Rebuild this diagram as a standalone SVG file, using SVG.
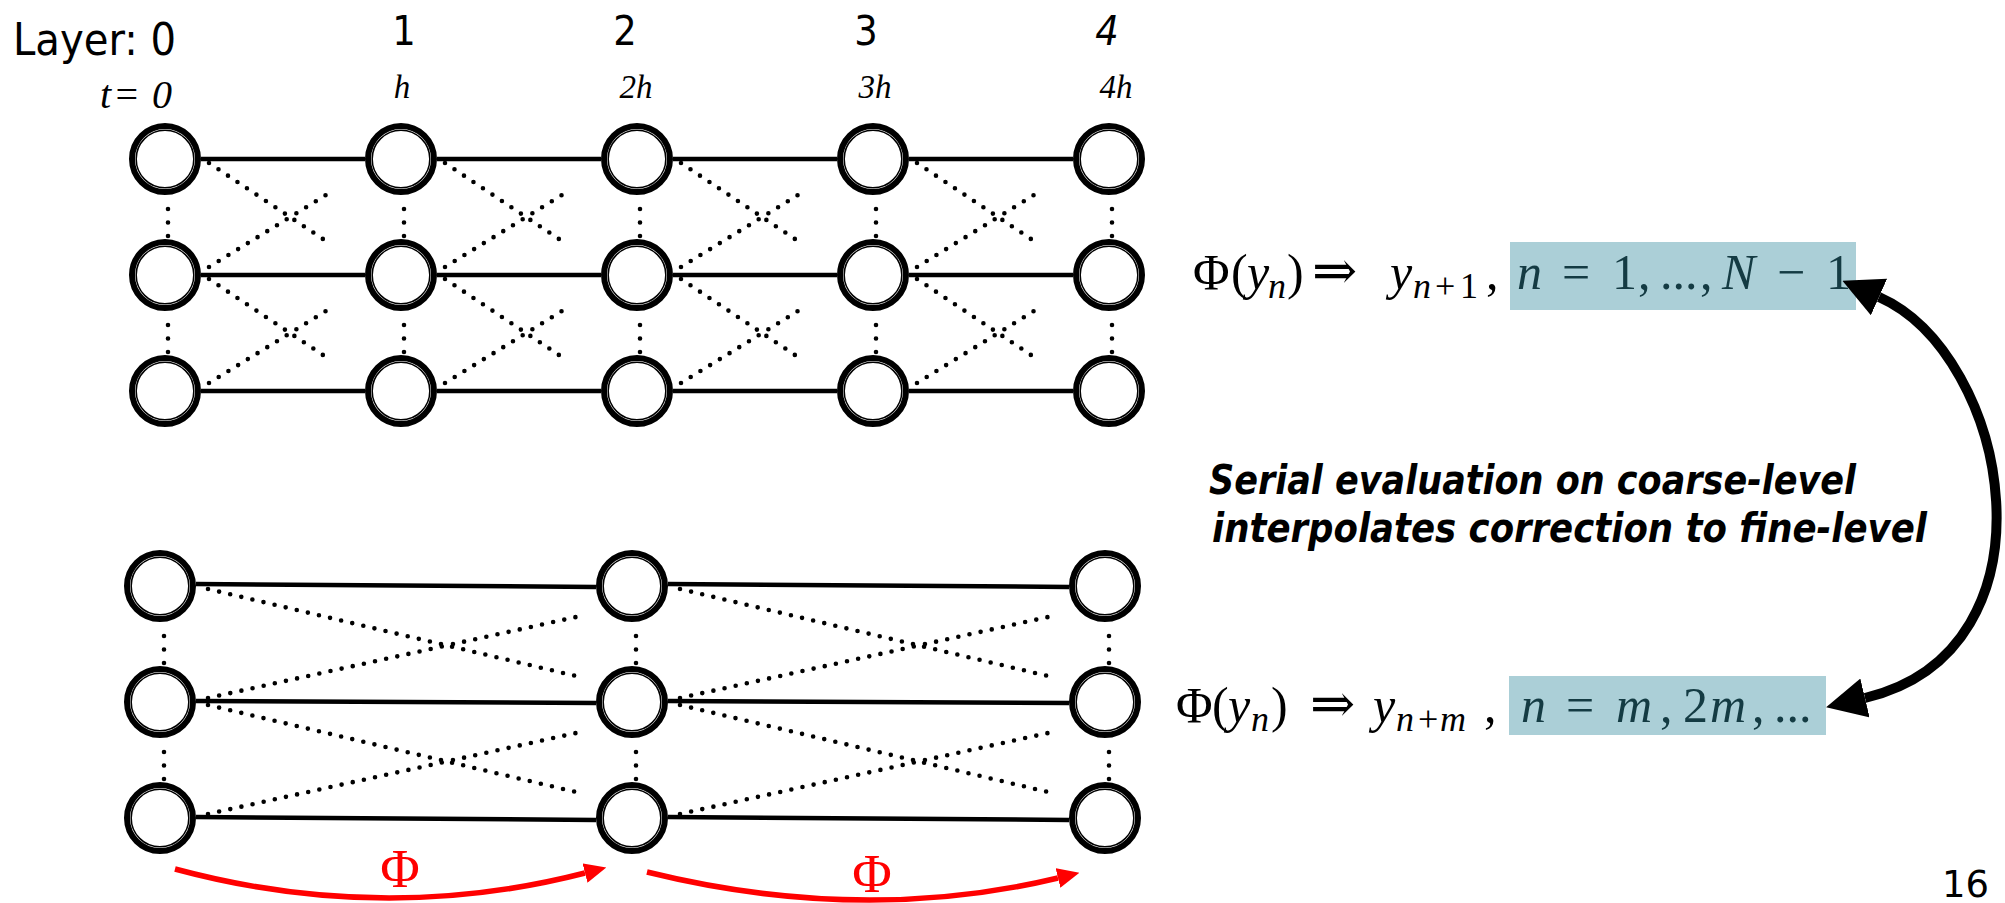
<svg xmlns="http://www.w3.org/2000/svg" xmlns:xlink="http://www.w3.org/1999/xlink" width="2005" height="903" viewBox="0 0 2005 903">
<style>
.ring{fill:#fff;stroke:#000;stroke-width:6}
.inner{fill:none;stroke:#000;stroke-width:1.5}
.solid{stroke:#000;stroke-width:4.5;fill:none}
.dot{stroke:#000;stroke-width:4.6;stroke-dasharray:0 11.4;stroke-linecap:round;fill:none}
.vdot{stroke:#000;stroke-width:4.6;stroke-dasharray:0 13.5;stroke-linecap:round;fill:none}
.sans{font-family:"DejaVu Sans","Liberation Sans",sans-serif;font-stretch:condensed}
.serif{font-family:"Liberation Serif","DejaVu Serif",serif}
.it{font-style:italic}
.box{fill:#abcfd7}
.boxtxt{fill:#143b43}
.red{stroke:#ff0000;stroke-width:5.5;fill:none}
.blk{stroke:#000;stroke-width:10;fill:none}
.arw{font-family:"DejaVu Serif",serif;font-size:54px}
.sub{font-size:36px}
.note{font-weight:bold;font-style:oblique;font-size:41px}
</style>
<defs>
<g id="nodeShape"><circle r="33" class="ring"/><circle r="28.8" class="inner"/></g>
<marker id="bigHead" viewBox="0 0 40 40" markerUnits="userSpaceOnUse" markerWidth="40" markerHeight="40" refX="0" refY="20" orient="auto-start-reverse"><path d="M0,0 L40,20 L0,40 z" fill="#000"/></marker>
<marker id="redHead" viewBox="0 0 22 20" markerUnits="userSpaceOnUse" markerWidth="22" markerHeight="20" refX="0" refY="10" orient="auto"><path d="M0,0 L22,10 L0,20 z" fill="#ff0000"/></marker>
</defs>
<rect width="2005" height="903" fill="#fff"/>

<g id="labels">
<text class="sans" x="13" y="55" font-size="44" textLength="163" lengthAdjust="spacingAndGlyphs">Layer: 0</text>
<text class="sans" x="404" y="45" font-size="41" text-anchor="middle">1</text>
<text class="sans" x="625" y="45" font-size="41" text-anchor="middle">2</text>
<text class="sans" x="866" y="45" font-size="41" text-anchor="middle">3</text>
<text class="sans it" x="1107" y="45" font-size="41" text-anchor="middle">4</text>
<text class="serif it" x="100" y="108" font-size="40"><tspan>t</tspan><tspan x="113">=</tspan><tspan x="152">0</tspan></text>
<text class="serif it" x="402" y="98" font-size="33" text-anchor="middle">h</text>
<text class="serif it" x="636" y="98" font-size="33" text-anchor="middle">2h</text>
<text class="serif it" x="875" y="98" font-size="33" text-anchor="middle">3h</text>
<text class="serif it" x="1116" y="98" font-size="33" text-anchor="middle">4h</text>
<text class="sans" x="1942" y="897" font-size="38" textLength="47" lengthAdjust="spacingAndGlyphs">16</text>
</g>

<g id="connectors">
<path class="solid" d="M201 159H365M437 159H601M673 159H837M909 159H1073"/>
<path class="solid" d="M201 275H365M437 275H601M673 275H837M909 275H1073"/>
<path class="solid" d="M201 391H365M437 391H601M673 391H837M909 391H1073"/>
<path class="vdot" d="M168 209V237M404 209V237M640 209V237M876 209V237M1112 209V237"/>
<path class="vdot" d="M168 325V353M404 325V353M640 325V353M876 325V353M1112 325V353"/>
<path class="dot" d="M209 163L323 239M209 267L326 195M209 279L323 355M209 383L326 311"/>
<path class="dot" d="M445 163L559 239M445 267L562 195M445 279L559 355M445 383L562 311"/>
<path class="dot" d="M681 163L795 239M681 267L798 195M681 279L795 355M681 383L798 311"/>
<path class="dot" d="M917 163L1031 239M917 267L1034 195M917 279L1031 355M917 383L1034 311"/>
<path class="solid" d="M196 584L596 587M668 584L1069 587"/>
<path class="solid" d="M196 701L596 703M668 701L1069 703"/>
<path class="solid" d="M196 817L596 820M668 817L1069 820"/>
<path class="vdot" d="M164 636V664M636 636V664M1109 636V664"/>
<path class="vdot" d="M164 752V780M636 752V780M1109 752V780"/>
<path class="dot" d="M208 589L576 676M208 698L576 617M208 705L576 792M208 814L576 733"/>
<path class="dot" d="M680 589L1048 676M680 698L1048 617M680 705L1048 792M680 814L1048 733"/>
<path class="red" d="M175 869Q383 925 585 873" marker-end="url(#redHead)"/>
<path class="red" d="M647 872Q862 925 1058 878" marker-end="url(#redHead)"/>
</g>

<g id="formulas">
<rect class="box" x="1510" y="242" width="346" height="68"/>
<rect class="box" x="1509" y="676" width="317" height="59"/>
<text class="serif" font-size="50" y="289"><tspan x="1193">Φ</tspan><tspan x="1231">(</tspan><tspan x="1247" class="it">y</tspan><tspan x="1268" y="298" class="sub it">n</tspan><tspan x="1287" y="289">)</tspan><tspan x="1312" class="arw">⇒</tspan><tspan x="1390" class="it">y</tspan><tspan x="1413" y="298" class="sub it">n</tspan><tspan x="1435" y="298" class="sub">+</tspan><tspan x="1460" y="298" class="sub">1</tspan><tspan x="1486" y="289">,</tspan></text>
<text class="serif boxtxt" font-size="50" y="289"><tspan x="1517" class="it">n</tspan><tspan x="1562">=</tspan><tspan x="1612">1</tspan><tspan x="1638">,</tspan><tspan x="1660">...</tspan><tspan x="1700">,</tspan><tspan x="1722" class="it">N</tspan><tspan x="1777">−</tspan><tspan x="1826">1</tspan></text>
<text class="serif" font-size="50" y="722"><tspan x="1176">Φ</tspan><tspan x="1212">(</tspan><tspan x="1228" class="it">y</tspan><tspan x="1251" y="731" class="sub it">n</tspan><tspan x="1271" y="722">)</tspan><tspan x="1310" class="arw">⇒</tspan><tspan x="1373" class="it">y</tspan><tspan x="1396" y="731" class="sub it">n</tspan><tspan x="1418" y="731" class="sub">+</tspan><tspan x="1440" y="731" class="sub it">m</tspan><tspan x="1484" y="722">,</tspan></text>
<text class="serif boxtxt" font-size="50" y="722"><tspan x="1521" class="it">n</tspan><tspan x="1566">=</tspan><tspan x="1616" class="it">m</tspan><tspan x="1660">,</tspan><tspan x="1683">2</tspan><tspan x="1710" class="it">m</tspan><tspan x="1752">,</tspan><tspan x="1774">...</tspan></text>
</g>

<g id="arrow-coarse-fine">
<path class="blk" d="M1879 297C2010 355 2065 650 1865 698" marker-start="url(#bigHead)" marker-end="url(#bigHead)"/>
</g>

<g id="note">
<text class="sans note" x="1209" y="494" textLength="647" lengthAdjust="spacingAndGlyphs">Serial evaluation on coarse-level</text>
<text class="sans note" x="1212" y="542" textLength="715" lengthAdjust="spacingAndGlyphs">interpolates correction to fine-level</text>
</g>

<g id="phi-labels">
<text class="serif" fill="#ff0000" font-size="54" x="400" y="887" text-anchor="middle">Φ</text>
<text class="serif" fill="#ff0000" font-size="54" x="872" y="892" text-anchor="middle">Φ</text>
</g>

<g id="fine-nodes">
<g id="f-0-0"><use href="#nodeShape" x="165" y="159"/></g>
<g id="f-1-0"><use href="#nodeShape" x="401" y="159"/></g>
<g id="f-2-0"><use href="#nodeShape" x="637" y="159"/></g>
<g id="f-3-0"><use href="#nodeShape" x="873" y="159"/></g>
<g id="f-4-0"><use href="#nodeShape" x="1109" y="159"/></g>
<g id="f-0-1"><use href="#nodeShape" x="165" y="275"/></g>
<g id="f-1-1"><use href="#nodeShape" x="401" y="275"/></g>
<g id="f-2-1"><use href="#nodeShape" x="637" y="275"/></g>
<g id="f-3-1"><use href="#nodeShape" x="873" y="275"/></g>
<g id="f-4-1"><use href="#nodeShape" x="1109" y="275"/></g>
<g id="f-0-2"><use href="#nodeShape" x="165" y="391"/></g>
<g id="f-1-2"><use href="#nodeShape" x="401" y="391"/></g>
<g id="f-2-2"><use href="#nodeShape" x="637" y="391"/></g>
<g id="f-3-2"><use href="#nodeShape" x="873" y="391"/></g>
<g id="f-4-2"><use href="#nodeShape" x="1109" y="391"/></g>
</g>
<g id="coarse-nodes">
<g id="c-0-0"><use href="#nodeShape" x="160" y="586"/></g>
<g id="c-1-0"><use href="#nodeShape" x="632" y="586"/></g>
<g id="c-2-0"><use href="#nodeShape" x="1105" y="586"/></g>
<g id="c-0-1"><use href="#nodeShape" x="160" y="702"/></g>
<g id="c-1-1"><use href="#nodeShape" x="632" y="702"/></g>
<g id="c-2-1"><use href="#nodeShape" x="1105" y="702"/></g>
<g id="c-0-2"><use href="#nodeShape" x="160" y="818"/></g>
<g id="c-1-2"><use href="#nodeShape" x="632" y="818"/></g>
<g id="c-2-2"><use href="#nodeShape" x="1105" y="818"/></g>
</g>
</svg>
